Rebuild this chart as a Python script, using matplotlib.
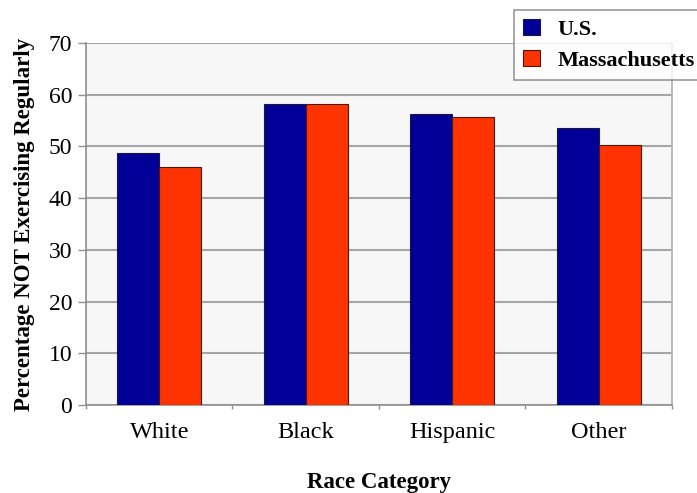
import matplotlib
matplotlib.use("Agg")
import matplotlib.pyplot as plt
import numpy as np

categories = ["White", "Black", "Hispanic", "Other"]
us_values = [48.8, 58.2, 56.2, 53.6]
ma_values = [46.1, 58.2, 55.6, 50.2]
series_names = ["U.S.", "Massachusetts"]
y_ticks = [0, 10, 20, 30, 40, 50, 60, 70]

plt.rcParams["font.family"] = ["Liberation Serif", "DejaVu Serif"]

fig = plt.figure(figsize=(6.97, 4.93), dpi=100)
fig.patch.set_facecolor("white")
ax = fig.add_axes([0.1234, 0.1785, 0.8406, 0.7343])
ax.set_facecolor("#f7f7f7")

x = np.arange(len(categories))
w = 0.287
ax.bar(x - w / 2, us_values, width=w, color="#000099", edgecolor="#1a1a33",
       linewidth=0.8, zorder=3, label=series_names[0])
ax.bar(x + w / 2, ma_values, width=w, color="#ff3300", edgecolor="#4a1a10",
       linewidth=0.8, zorder=3, label=series_names[1])

ax.set_xlim(-0.5, len(categories) - 0.5)
ax.set_ylim(0, 70)
ax.set_yticks(y_ticks)
ax.yaxis.grid(True, color="#a6a6a6", linewidth=1.5, zorder=0)
ax.set_axisbelow(True)

ax.set_xticks(x)
ax.set_xticklabels(categories, fontsize=17.5)
ax.set_xticks(np.arange(-0.5, len(categories)), minor=True)
ax.tick_params(axis="x", which="major", length=0, pad=12)
ax.tick_params(axis="x", which="minor", length=3, color="#909090", width=1)
ax.tick_params(axis="y", length=6, color="#909090", width=1, labelsize=17, pad=4)

ax.spines["top"].set_visible(False)
ax.spines["left"].set_color("#909090")
ax.spines["left"].set_linewidth(1.2)
ax.spines["bottom"].set_color("#909090")
ax.spines["bottom"].set_linewidth(1.2)
ax.spines["right"].set_color("#b0b0b0")
ax.spines["right"].set_linewidth(1.2)

ax.set_ylabel("Percentage NOT Exercising Regularly", fontsize=16.5,
              fontweight="bold", labelpad=10)
ax.set_xlabel("Race Category", fontsize=16.5, fontweight="bold", labelpad=21)

leg = fig.legend(loc="upper left", bbox_to_anchor=(514 / 697, 1 - 10 / 493),
                 frameon=True, fancybox=False,
                 prop={"weight": "bold", "size": 16},
                 handlelength=0.75, handleheight=0.75, handletextpad=0.8,
                 borderpad=0.4, labelspacing=0.45, borderaxespad=0)
leg.get_frame().set_edgecolor("#808080")
leg.get_frame().set_linewidth(1.2)
leg.get_frame().set_facecolor("white")

fig.savefig("out.png", dpi=100)
